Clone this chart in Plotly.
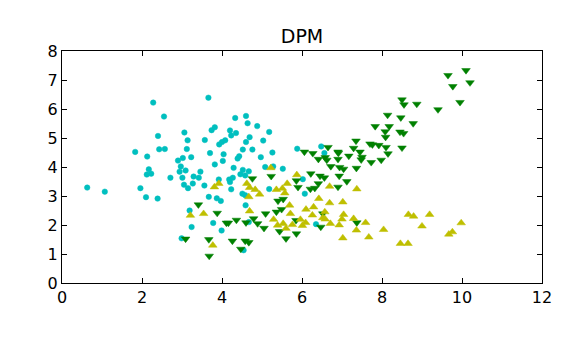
import plotly.graph_objects as go

title_text = "DPM"
x_ticks = [0, 2, 4, 6, 8, 10, 12]
y_ticks = [0, 1, 2, 3, 4, 5, 6, 7, 8]

cyan_x = [0.63, 1.07, 1.83, 1.96, 2.10, 2.13, 2.17, 2.12, 2.23, 2.28, 2.39, 2.40, 2.43, 2.55, 2.57,
          2.71, 2.90, 2.94, 2.97, 3.01, 3.02, 3.05, 3.06, 3.09, 3.12, 3.14, 3.15, 3.23, 3.27, 3.29,
          3.42, 3.46, 3.56, 3.57, 3.66, 3.70, 3.74, 3.82, 3.82, 3.92, 3.93, 4.00, 4.02, 4.04, 4.08,
          4.18, 4.20, 4.20, 4.23, 4.23, 4.27, 4.29, 4.33, 4.35, 4.39, 4.43, 4.46, 4.52, 4.52, 4.58,
          4.60, 4.60, 4.64, 4.67, 4.69, 4.76, 4.88, 4.97, 5.03, 5.08, 5.18, 5.26, 5.28, 5.52, 5.88,
          6.02, 6.07, 6.48, 6.56, 6.35, 3.67, 3.87, 3.97, 4.51, 4.58, 4.59, 5.18, 3.19, 3.24, 3.78,
          3.99, 4.67, 4.54, 2.99]
cyan_y = [3.29, 3.15, 4.52, 3.27, 2.96, 4.36, 3.92, 3.74, 3.77, 6.22, 2.91, 5.07, 4.61, 5.74, 4.62,
          3.63, 4.22, 3.84, 4.02, 3.63, 4.31, 3.39, 5.19, 3.88, 4.62, 4.92, 3.27, 4.34, 3.43, 3.67,
          3.63, 3.84, 3.36, 4.93, 6.39, 4.48, 5.27, 5.37, 4.09, 3.57, 4.78, 4.86, 4.21, 4.44, 4.92,
          3.57, 5.26, 3.48, 5.09, 3.23, 3.63, 3.97, 5.69, 5.17, 4.29, 4.37, 3.75, 4.60, 3.90, 3.71,
          5.76, 4.86, 5.51, 3.85, 5.03, 4.60, 5.41, 4.34, 4.91, 4.00, 5.21, 4.50, 4.02, 3.94, 4.63,
          3.58, 3.08, 4.71, 4.48, 2.03, 2.97, 2.92, 2.83, 3.08, 3.03, 2.68, 3.24, 2.50, 1.93, 2.07,
          1.81, 2.10, 1.13, 1.54]

green_x = [3.09, 3.41, 3.67, 3.68, 3.88, 4.11, 4.16, 4.26, 4.36, 4.47, 4.58, 4.67, 4.60, 4.76, 4.79,
           4.89, 5.05, 5.09, 5.23, 5.36, 5.40, 5.44, 5.49, 5.53, 5.60, 5.85, 5.86, 5.86, 5.90, 6.06,
           6.21, 6.22, 6.27, 6.32, 6.41, 6.41, 6.45, 6.47, 6.52, 6.56, 6.58, 6.62, 6.65, 6.72, 6.90,
           6.91, 6.90, 6.90, 6.93, 6.94, 7.04, 7.12, 7.17, 7.29, 7.35, 7.36, 7.37, 7.45, 7.50, 7.48,
           7.70, 7.76, 7.73, 7.92, 7.98, 8.10, 8.15, 7.83, 8.18, 8.08, 8.09, 8.14, 8.47, 8.45, 8.54,
           8.50, 8.78, 8.50, 8.55, 8.87, 9.40, 9.65, 9.77, 9.95, 10.10, 10.20]
green_y = [1.52, 2.70, 1.50, 0.93, 2.41, 2.07, 2.07, 1.45, 2.17, 1.17, 1.45, 1.40, 2.08, 3.60, 2.22,
           2.05, 1.89, 2.39, 3.68, 2.45, 2.83, 1.78, 2.54, 2.89, 1.53, 2.16, 1.70, 3.53, 3.30, 4.52,
           3.24, 3.77, 4.47, 3.27, 4.27, 3.43, 3.69, 1.93, 2.39, 3.63, 4.33, 4.24, 4.68, 4.02, 4.52,
           4.48, 4.27, 3.31, 3.69, 3.99, 3.93, 3.50, 4.38, 4.65, 4.90, 3.96, 2.08, 4.52, 4.34, 4.25,
           4.80, 4.77, 4.16, 4.75, 4.24, 4.68, 4.46, 5.40, 5.40, 5.22, 5.03, 5.79, 5.70, 5.21, 5.16,
           4.66, 5.50, 6.32, 6.15, 6.17, 5.98, 7.16, 6.78, 6.23, 7.33, 6.91]

yellow_x = [3.21, 3.54, 3.77, 3.81, 3.92, 4.62, 4.69, 4.67, 4.83, 4.94, 4.69, 5.22, 5.36, 5.51, 5.57,
            5.63, 5.69, 5.71, 5.29, 5.39, 5.53, 5.60, 5.76, 5.87, 5.96, 6.01, 6.10, 6.29, 6.09, 6.26,
            6.42, 6.52, 6.57, 6.58, 6.69, 6.69, 6.71, 6.93, 7.00, 7.02, 7.02, 7.04, 7.29, 7.36, 7.37,
            7.59, 7.67, 8.04, 8.46, 8.65, 8.66, 8.79, 9.00, 9.19, 9.67, 9.76, 9.98]
yellow_y = [2.33, 2.39, 1.30, 3.31, 3.43, 3.43, 3.29, 2.97, 3.22, 3.06, 2.48, 3.97, 3.22, 3.26, 3.10,
            3.43, 2.68, 2.39, 2.19, 1.99, 2.05, 1.88, 2.01, 3.73, 2.19, 1.98, 2.54, 2.62, 2.08, 2.34,
            2.91, 2.25, 2.45, 2.20, 2.76, 3.33, 2.05, 2.00, 2.20, 2.79, 1.55, 2.36, 2.22, 1.82, 3.24,
            2.08, 1.58, 1.84, 1.36, 1.36, 2.36, 2.30, 1.96, 2.36, 1.68, 1.76, 2.07]

fig = go.Figure()
fig.add_trace(go.Scatter(x=cyan_x, y=cyan_y, mode="markers",
                         marker=dict(symbol="circle", size=5.5, color="#00BFBF",
                                     line=dict(width=0.5, color="#00BFBF"))))
fig.add_trace(go.Scatter(x=green_x, y=green_y, mode="markers",
                         marker=dict(symbol="triangle-down", size=7.5, color="#008000",
                                     line=dict(width=0.5, color="#008000"))))
fig.add_trace(go.Scatter(x=yellow_x, y=yellow_y, mode="markers",
                         marker=dict(symbol="triangle-up", size=7.5, color="#BFBF00",
                                     line=dict(width=0.5, color="#BFBF00"))))

axis_common = dict(showgrid=False, zeroline=False, showline=True, linecolor="black", linewidth=1,
                   mirror="allticks", ticks="inside", ticklen=5, tickcolor="black", tickwidth=1,
                   tickfont=dict(family="DejaVu Sans", size=16, color="black"))

fig.update_layout(
    width=586, height=347,
    margin=dict(l=54, r=52, t=43, b=72),
    paper_bgcolor="white", plot_bgcolor="white",
    showlegend=False,
    title=dict(text=title_text, x=0.5, xanchor="center", xref="paper",
               y=1 - 28 / 347, yanchor="middle",
               font=dict(family="DejaVu Sans", size=19, color="black")),
    xaxis=dict(range=[0, 12], tickvals=x_ticks, ticktext=[str(v) for v in x_ticks], **axis_common),
    yaxis=dict(range=[0, 8], tickvals=y_ticks, ticktext=[str(v) for v in y_ticks], **axis_common),
)

fig.write_html("out.html")
